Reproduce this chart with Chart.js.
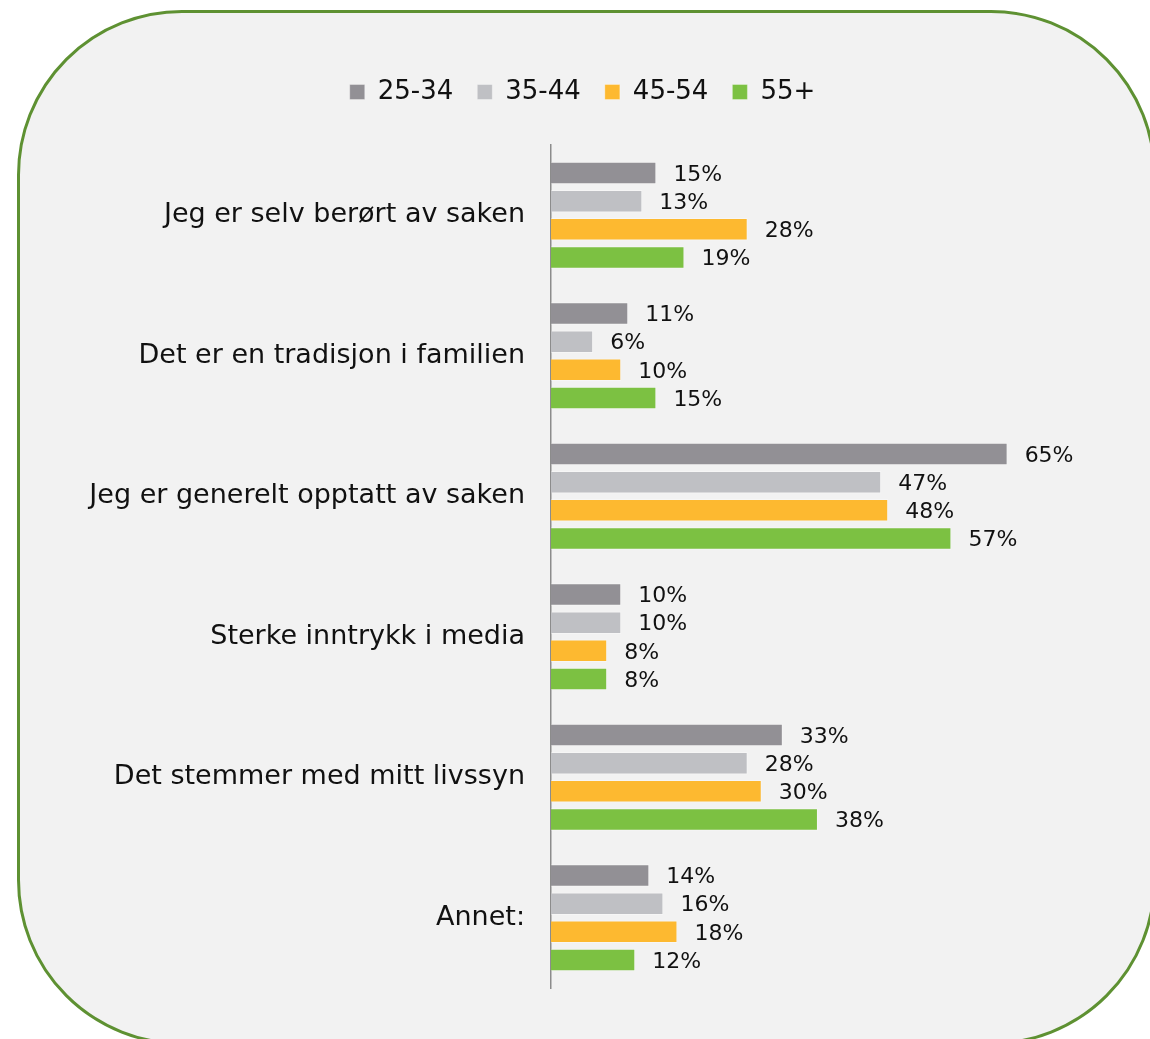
<!DOCTYPE html>
<html>
<head>
<meta charset="utf-8">
<script src="https://cdn.jsdelivr.net/npm/chart.js@4"></script>
<style>
    html, body { margin: 0; padding: 0; background: #ffffff; overflow: hidden; }
    #wrap { position: relative; width: 1150px; height: 1039px; overflow: hidden; }
    #card {
        position: absolute; left: 17px; top: 10px; width: 1139px; height: 1035px;
        box-sizing: border-box; border: 3px solid #5e9132; border-radius: 165px;
        background: #f2f2f2;
    }
    #chart { position: absolute; left: 0; top: 0; }
</style>
</head>
<body>
<div id="wrap">
    <div id="card"></div>
    <canvas id="chart" width="1150" height="1039"></canvas>
</div>
<script>
// categories and series values (percent)
const categories = [
    'Jeg er selv berørt av saken',
    'Det er en tradisjon i familien',
    'Jeg er generelt opptatt av saken',
    'Sterke inntrykk i media',
    'Det stemmer med mitt livssyn',
    'Annet:'
];
const seriesNames = ['25-34', '35-44', '45-54', '55+'];
const age25_34 = [15, 11, 65, 10, 33, 14];
const age35_44 = [13, 6, 47, 10, 28, 16];
const age45_54 = [28, 10, 48, 8, 30, 18];
const age55plus = [19, 15, 57, 8, 38, 12];

const colors = ['#929095', '#bfc0c4', '#fdb930', '#7cc142'];
const FONT = '"DejaVu Sans", Verdana, sans-serif';
const TEXT = '#111111';

// draws "NN%" to the right of every bar
const valueLabels = {
    id: 'valueLabels',
    afterDatasetsDraw(chart) {
        const ctx = chart.ctx;
        ctx.save();
        ctx.font = '22px ' + FONT;
        ctx.fillStyle = TEXT;
        ctx.textAlign = 'left';
        ctx.textBaseline = 'middle';
        chart.data.datasets.forEach((ds, i) => {
            const meta = chart.getDatasetMeta(i);
            meta.data.forEach((bar, j) => {
                ctx.fillText(ds.data[j] + '%', bar.x + 17, bar.y + 2);
            });
        });
        ctx.restore();
    }
};

// extra room below the legend, and nudge it right so it sits centred on the card
const legendSpace = {
    id: 'legendSpace',
    beforeInit(chart) {
        const origFit = chart.legend.fit;
        chart.legend.fit = function() {
            origFit.bind(chart.legend)();
            this.height += 30;
        };
    },
    afterLayout(chart) {
        chart.legend.left += 26;
        chart.legend.right += 26;
    }
};

const seriesData = [age25_34, age35_44, age45_54, age55plus];

new Chart(document.getElementById('chart').getContext('2d'), {
    type: 'bar',
    data: {
        labels: categories,
        datasets: seriesNames.map((name, i) => ({
            label: name,
            data: seriesData[i],
            backgroundColor: colors[i],
            borderColor: 'rgba(255,255,255,0.3)',
            borderWidth: 1,
            categoryPercentage: 0.8,
            barPercentage: 0.8
        }))
    },
    options: {
        indexAxis: 'y',
        responsive: false,
        animation: false,
        layout: {
            padding: { top: 55, right: 37, bottom: 51, left: 0 }
        },
        scales: {
            x: {
                display: false,
                min: 0,
                max: 80
            },
            y: {
                afterFit: function(scale) {
                    scale.width = 551;
                },
                grid: { display: false, drawTicks: false },
                border: { display: true, color: '#8c8c8c', width: 1.5 },
                ticks: {
                    color: TEXT,
                    padding: 26,
                    font: { family: FONT, size: 27 }
                }
            }
        },
        plugins: {
            legend: {
                position: 'top',
                labels: {
                    boxWidth: 15,
                    boxHeight: 15,
                    padding: 24,
                    color: TEXT,
                    font: { family: FONT, size: 26 }
                }
            },
            tooltip: { enabled: false }
        }
    },
    plugins: [valueLabels, legendSpace]
});
</script>
</body>
</html>
